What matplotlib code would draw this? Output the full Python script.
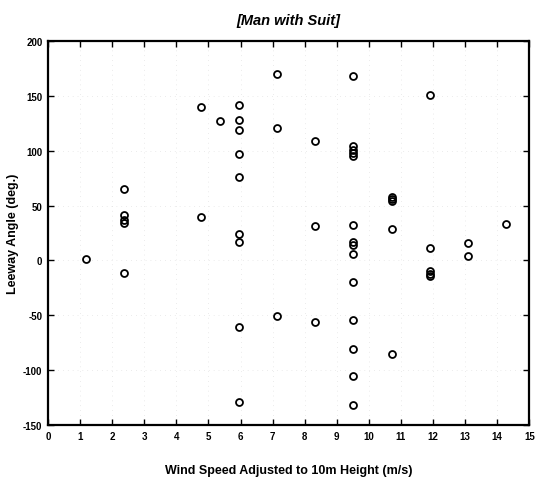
import numpy as np
import matplotlib
import matplotlib.pyplot as plt
matplotlib.use('Agg')

plt.rcParams['font.family'] = ['Liberation Sans', 'DejaVu Sans']
plt.rcParams['axes.unicode_minus'] = False

# wind speed (m/s) and leeway angle (deg)
wind_speed = [1.19,
              2.38, 2.38, 2.38, 2.38, 2.38,
              4.76, 4.76,
              5.36,
              5.95, 5.95, 5.95, 5.95, 5.95, 5.95, 5.95, 5.95, 5.95,
              7.14, 7.14, 7.14,
              8.33, 8.33, 8.33,
              9.52, 9.52, 9.52, 9.52, 9.52, 9.52, 9.52, 9.52, 9.52, 9.52, 9.52, 9.52, 9.52, 9.52,
              10.71, 10.71, 10.71, 10.71, 10.71,
              11.9, 11.9, 11.9, 11.9, 11.9,
              13.09, 13.09,
              14.28]
leeway_angle = [1,
                65, 41, 37, 34, -11,
                140, 40,
                127,
                142, 128, 119, 97, 76, 24, 17, -61, -129,
                170, 121, -51,
                109, 31, -56,
                168, 104, 101, 98, 95, 32, 17, 14, 6, -20, -54, -81, -105, -132,
                58, 56, 54, 29, -85,
                151, 11, -10, -12, -14,
                16, 4,
                33]

x_ticks = list(range(0, 16))
y_ticks = list(range(-150, 201, 50))

fig = plt.figure(figsize=(5.39, 4.81), dpi=100)
ax = fig.add_axes([0.089, 0.1143, 0.893, 0.7984])

ax.plot(wind_speed, leeway_angle, linestyle='none', marker='o', markersize=5,
        markerfacecolor='none', markeredgecolor='black', markeredgewidth=1.3)

ax.set_xlim(0, 15)
ax.set_ylim(-150, 200)
ax.set_xticks(x_ticks)
ax.set_yticks(y_ticks)
ax.tick_params(direction='in', length=4, width=1, top=True, right=True,
               labelsize=7, pad=4)
for lbl in ax.get_xticklabels() + ax.get_yticklabels():
    lbl.set_fontweight('bold')

# faint dotted grid (mostly faded in the scan)
ax.grid(True, color='0.85', linestyle=(0, (1, 6)), linewidth=0.5)

for s in ax.spines.values():
    s.set_linewidth(1.6)

ax.set_title('[Man with Suit]', fontsize=10.5, fontweight='bold', style='italic', pad=12)
ax.set_xlabel('Wind Speed Adjusted to 10m Height (m/s)', fontsize=9,
              fontweight='bold', labelpad=17)
ax.set_ylabel('Leeway Angle (deg.)', fontsize=9, fontweight='bold', labelpad=3)

plt.savefig('out.png', dpi=100)
